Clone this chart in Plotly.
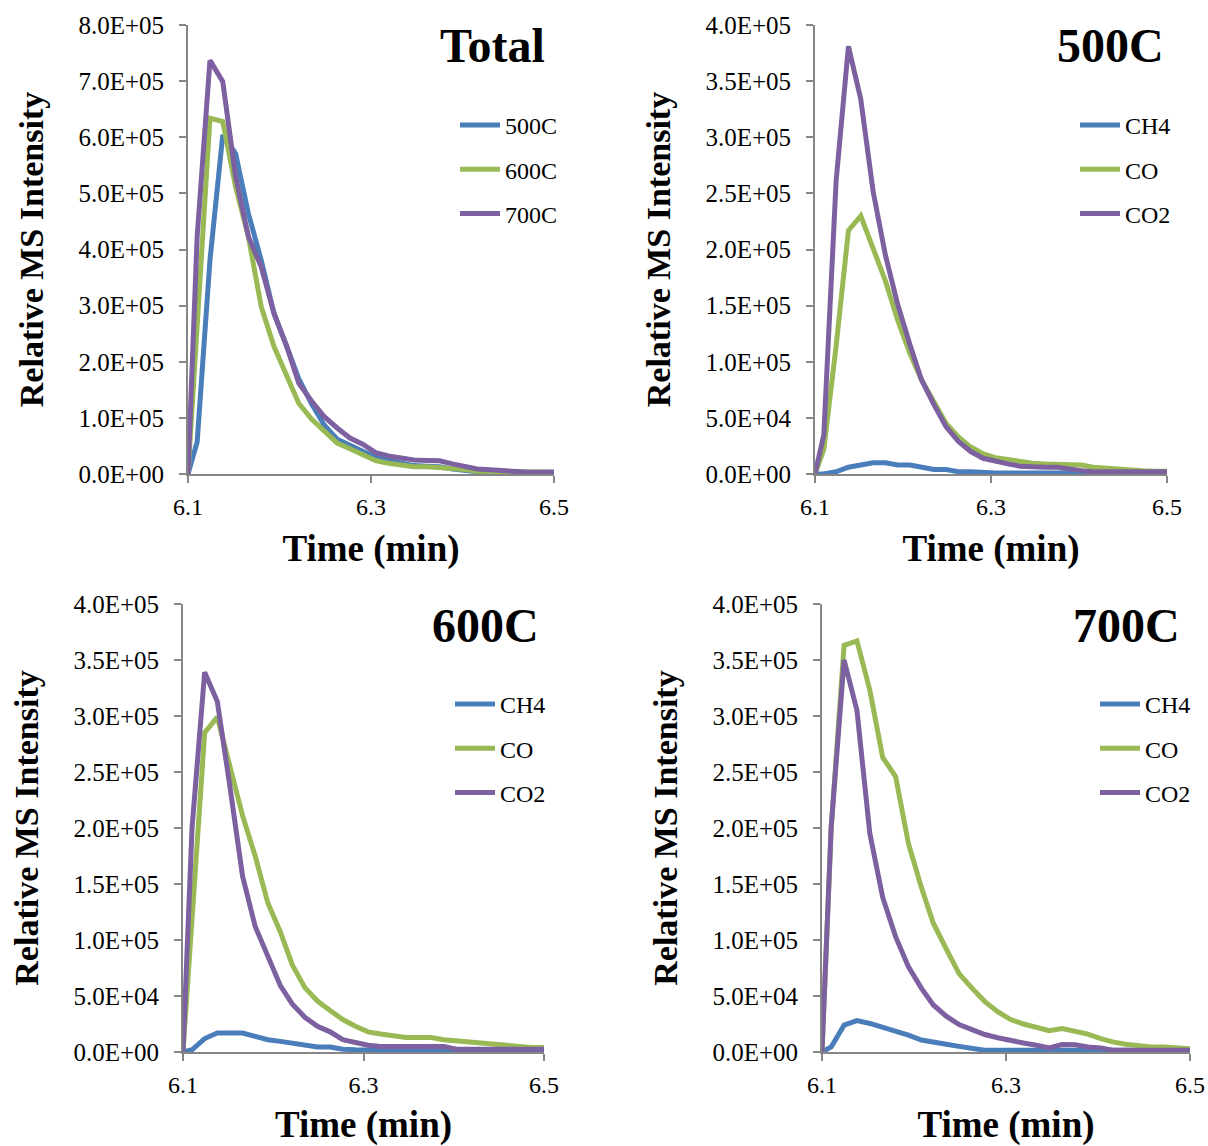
import plotly.graph_objects as go

W, H = 1208, 1146

times = [6.100, 6.110, 6.124, 6.138, 6.152, 6.166, 6.180, 6.194, 6.208, 6.221,
         6.235, 6.249, 6.263, 6.277, 6.291, 6.305, 6.319, 6.333, 6.347, 6.361,
         6.375, 6.389, 6.403, 6.416, 6.430, 6.444, 6.458, 6.472, 6.486, 6.500]

# Total panel
total_500C = [0, 57000, 381000, 604000, 571000, 464000, 381000, 286000, 227000, 170000,
              125000, 87000, 62000, 52000, 40000, 30000, 24000, 19000, 15000, 14000,
              13000, 9000, 6000, 4000, 4000, 3000, 3000, 3000, 3000, 3000]
total_600C = [0, 260000, 634000, 628000, 512000, 423000, 298000, 227000, 173000, 126000,
              98000, 75000, 55000, 45000, 34000, 24000, 19000, 15000, 13000, 13000,
              12000, 10000, 8000, 5000, 4500, 4000, 3000, 3000, 3000, 3000]
total_700C = [0, 423000, 737000, 699000, 530000, 423000, 369000, 286000, 227000, 162000,
              130000, 102000, 82000, 64000, 53000, 38000, 32000, 28000, 25000, 24000,
              23500, 18000, 14000, 9000, 7500, 6000, 3000, 3000, 3000, 3000]

# 500C panel
c500_CH4 = [0, 0, 2000, 6000, 8000, 10000, 10000, 8000, 8000, 6000,
            4000, 4000, 2000, 2000, 1000, 1000, 1000, 1000, 1000, 1000,
            1000, 1000, 1000, 1000, 1000, 1000, 1000, 1000, 1000, 1000]
c500_CO = [0, 22000, 114000, 217000, 230000, 201000, 172000, 137000, 107000, 84000,
           64000, 45000, 33000, 24000, 18000, 14500, 13000, 11000, 9500, 9000,
           9000, 9000, 8000, 6000, 5000, 4000, 3000, 3000, 2500, 2500]
c500_CO2 = [0, 35000, 261000, 381000, 334000, 252000, 195000, 151000, 115000, 84000,
            62000, 42000, 29000, 20000, 14000, 11000, 9000, 7000, 6000, 6000,
            6000, 4000, 3000, 2000, 2000, 2000, 2000, 2000, 2000, 2000]

# 600C panel
c600_CH4 = [0, 2000, 12000, 17000, 17000, 17000, 14000, 11000, 9500, 8000,
            6000, 4500, 4500, 2500, 2000, 1500, 1000, 1000, 1000, 1000,
            1000, 1000, 1000, 1000, 1000, 1000, 1000, 1000, 1000, 1000]
c600_CO = [0, 125000, 285000, 299000, 255000, 211000, 175000, 133000, 107000, 78000,
           57500, 45500, 37000, 29000, 23000, 18000, 16000, 14000, 13000, 13000,
           13000, 11000, 10000, 8000, 7000, 6000, 5000, 4000, 4000, 4000]
c600_CO2 = [0, 200000, 339000, 313000, 237000, 157000, 112000, 84000, 59000, 43000,
            31000, 23000, 18000, 11000, 8500, 6000, 5000, 5000, 5000, 5000,
            5000, 5000, 2500, 2500, 2500, 2500, 2500, 2500, 2500, 2500]

# 700C panel
c700_CH4 = [0, 4500, 24000, 28000, 25500, 22000, 19000, 15000, 10700, 8400,
            7000, 5000, 3500, 1500, 1500, 1500, 1500, 1500, 1500, 1500,
            1500, 1500, 1500, 1500, 1500, 1500, 1500, 1500, 1500, 1500]
c700_CO = [0, 200000, 363000, 367000, 323000, 263000, 246000, 186000, 147000, 115000,
           92000, 70000, 57000, 45000, 36000, 29000, 25000, 22000, 19000, 21000,
           18500, 16000, 12000, 9000, 7000, 5500, 4500, 4500, 4000, 3000]
c700_CO2 = [0, 201000, 350000, 305000, 195000, 138000, 103000, 76000, 57000, 42000,
            32000, 24500, 20000, 15600, 12700, 10000, 8000, 6000, 3700, 6700,
            6500, 4500, 3700, 1600, 1600, 1600, 1600, 1600, 1600, 1600]

x_tickvals = [6.1, 6.3, 6.5]
x_ticktext = ["6.1", "6.3", "6.5"]
y_tickvals_total = [0, 100000, 200000, 300000, 400000, 500000, 600000, 700000, 800000]
y_ticktext_total = ["0.0E+00", "1.0E+05", "2.0E+05", "3.0E+05", "4.0E+05",
                    "5.0E+05", "6.0E+05", "7.0E+05", "8.0E+05"]
y_tickvals_gas = [0, 50000, 100000, 150000, 200000, 250000, 300000, 350000, 400000]
y_ticktext_gas = ["0.0E+00", "5.0E+04", "1.0E+05", "1.5E+05", "2.0E+05",
                  "2.5E+05", "3.0E+05", "3.5E+05", "4.0E+05"]

panel_titles = ["Total", "500C", "600C", "700C"]
total_names = ["500C", "600C", "700C"]
gas_names = ["CH4", "CO", "CO2"]

BLUE, GREEN, PURPLE = "#4A7EBB", "#98B954", "#7D60A0"
colors = [BLUE, GREEN, PURPLE]
FONT = "Liberation Serif"
AXIS_GRAY = "#868686"

panels = [
    dict(series=[total_500C, total_600C, total_700C], names=total_names,
         px=(188, 554), py=(474, 25), ymax=800000, tv=y_tickvals_total, tt=y_ticktext_total,
         title_xy=(492, 46), legend_xy=(455, 103)),
    dict(series=[c500_CH4, c500_CO, c500_CO2], names=gas_names,
         px=(815, 1167), py=(474, 25), ymax=400000, tv=y_tickvals_gas, tt=y_ticktext_gas,
         title_xy=(1110, 46), legend_xy=(1075, 103)),
    dict(series=[c600_CH4, c600_CO, c600_CO2], names=gas_names,
         px=(183, 544), py=(1052, 604), ymax=400000, tv=y_tickvals_gas, tt=y_ticktext_gas,
         title_xy=(485, 625), legend_xy=(450, 682)),
    dict(series=[c700_CH4, c700_CO, c700_CO2], names=gas_names,
         px=(822, 1190), py=(1052, 604), ymax=400000, tv=y_tickvals_gas, tt=y_ticktext_gas,
         title_xy=(1126, 625), legend_xy=(1095, 682)),
]

fig = go.Figure()
layout = dict(
    width=W, height=H, margin=dict(l=0, r=0, t=0, b=0, autoexpand=False),
    paper_bgcolor="white", plot_bgcolor="white",
    font=dict(family=FONT, size=24, color="black"),
    annotations=[],
)

for i, p in enumerate(panels):
    k = "" if i == 0 else str(i + 1)
    xa, ya = "x" + k, "y" + k
    leg = "legend" + k
    for j, (vals, name) in enumerate(zip(p["series"], p["names"])):
        fig.add_trace(go.Scatter(
            x=times, y=vals, name=name, mode="lines",
            line=dict(color=colors[j], width=5),
            xaxis=xa, yaxis=ya, legend=leg, legendgroup=f"g{i}{j}",
        ))
    x0, x1 = p["px"]
    yb, yt = p["py"]
    layout["xaxis" + k] = dict(
        domain=[x0 / W, x1 / W], anchor=ya, range=[6.1, 6.5], automargin=False,
        tickvals=x_tickvals, ticktext=x_ticktext, ticks="outside", ticklen=7,
        tickwidth=2, tickcolor=AXIS_GRAY, showline=True, linecolor=AXIS_GRAY, linewidth=2,
        showgrid=False, zeroline=False, tickfont=dict(family=FONT, size=24),
        ticklabelstandoff=3,
        title=dict(text="<b>Time (min)</b>", font=dict(family=FONT, size=37), standoff=16),
    )
    layout["yaxis" + k] = dict(
        domain=[1 - yb / H, 1 - yt / H], anchor=xa, range=[0, p["ymax"]], automargin=False,
        tickvals=p["tv"], ticktext=p["tt"], ticks="outside", ticklen=7,
        tickwidth=2, tickcolor=AXIS_GRAY, showline=True, linecolor=AXIS_GRAY, linewidth=2,
        showgrid=False, zeroline=False, tickfont=dict(family=FONT, size=25),
        ticklabelstandoff=10,
        title=dict(text="<b>Relative MS Intensity</b>", font=dict(family=FONT, size=34), standoff=24),
    )
    lx, ly = p["legend_xy"]
    layout[leg] = dict(
        x=lx / W, y=1 - ly / H, xanchor="left", yanchor="top",
        bgcolor="rgba(0,0,0,0)", font=dict(family=FONT, size=24),
        tracegroupgap=10, itemwidth=40,
    )
    tx, ty = p["title_xy"]
    layout["annotations"].append(dict(
        text="<b>" + panel_titles[i] + "</b>", x=tx / W, y=1 - ty / H,
        xref="paper", yref="paper", xanchor="center", yanchor="middle",
        showarrow=False, font=dict(family=FONT, size=48),
    ))

fig.update_layout(**layout)
fig.write_html("out.html", config={"displayModeBar": False},
               post_script="document.body.style.margin='0';document.body.style.overflow='hidden';")
